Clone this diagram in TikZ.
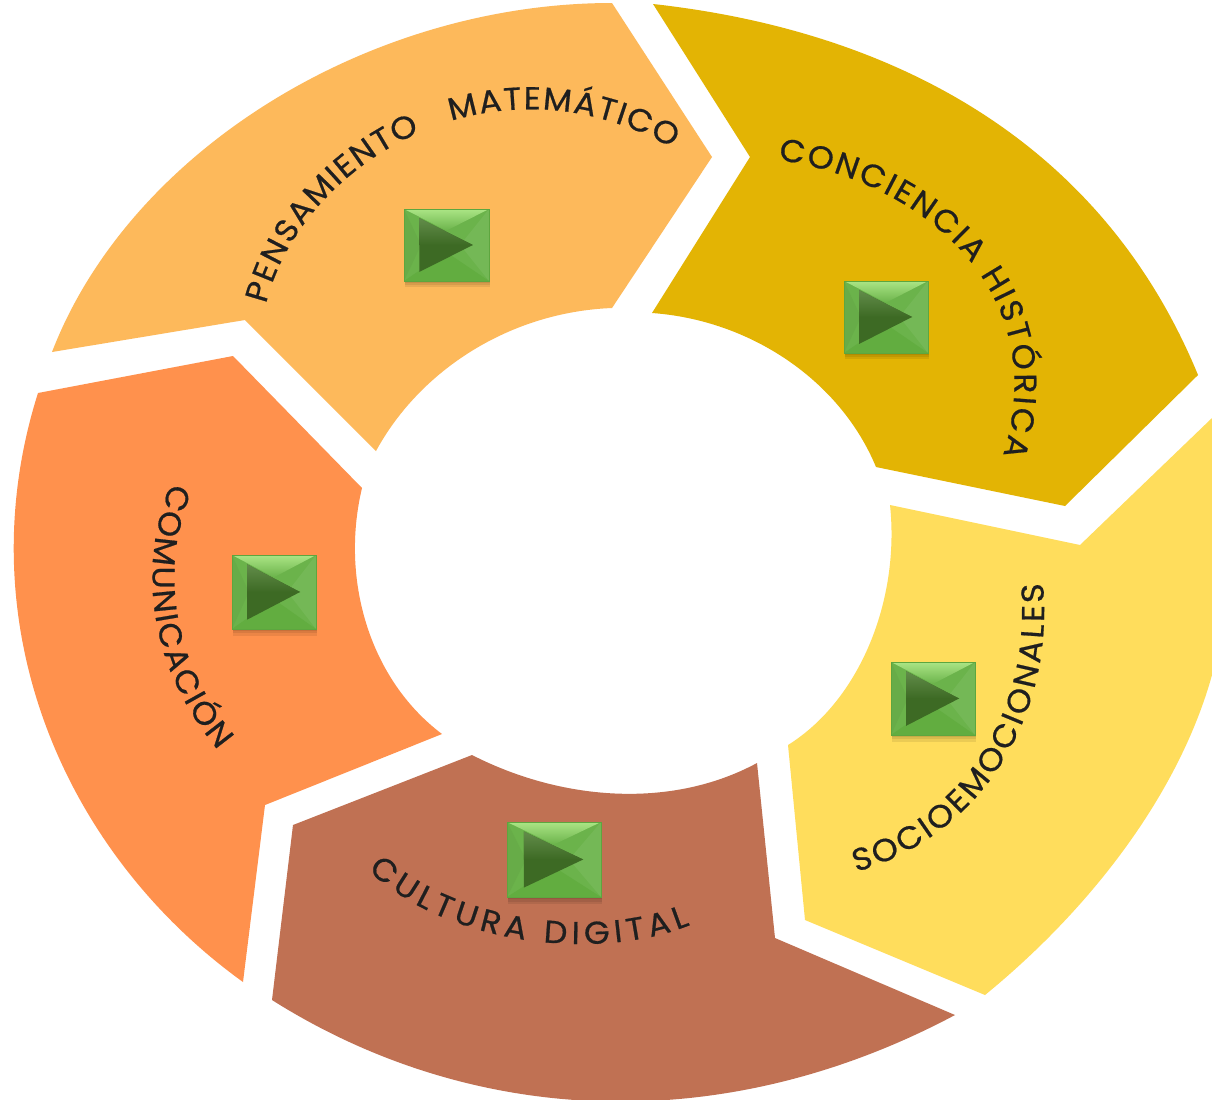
\documentclass[tikz,border=0pt]{standalone}
\usepackage{fontspec}
\usetikzlibrary{decorations.text}
\newfontfamily\labelfont[FakeStretch=1.05,FakeBold=.6]{Poppins}
\definecolor{pensa}{HTML}{FDB95B}
\definecolor{concie}{HTML}{E3B404}
\definecolor{socio}{HTML}{FFDD5C}
\definecolor{cultu}{HTML}{C07153}
\definecolor{comun}{HTML}{FF914D}
\definecolor{btnedge}{HTML}{5DA63F}
\definecolor{btnlight}{HTML}{ABE585}
\definecolor{btnmid}{HTML}{6BB34B}
\definecolor{btnlow}{HTML}{62AD40}
\definecolor{btndark}{HTML}{3D6A24}
\definecolor{btnsoft}{HTML}{628C4A}
\tikzset{
  arctext/.style={decorate,decoration={text along path,text align={fit to path},
                  text={|\labelfont\fontsize{18}{18}\selectfont\color{black!88}|#1}}}
}
% Play button: left, top, width, height
\newcommand*{\playbtn}[4]{
\begin{scope}[shift={(#1,#2)},x=#3*.02cm,y=#4*-.02cm]
% Soft shadow
\foreach \off in {.03,.06,.09}
  \fill[black,opacity=.08] (.01,.05) rectangle (1.01,1+\off);
\fill[btnmid] (0,0) rectangle (1,1);
% Bevel facets
\shade[top color=btnlight,bottom color=btnmid] (0,0) -- (1,0) -- (.5,.3) -- cycle;
\fill[btnmid!96!black] (0,0) -- (0,1) -- (.2,.5) -- cycle;
\fill[btnmid!94!white] (1,0) -- (1,1) -- (.66,.5) -- cycle;
\fill[btnlow] (0,1) -- (1,1) -- (.5,.6) -- cycle;
\draw[btnedge,line width=.5pt] (0,0) rectangle (1,1);
% Triangle on top
\fill[btndark] (.18,.126) -- (.81,.5) -- (.18,.874) -- cycle;
\shade[top color=btnsoft,bottom color=btndark] (.18,.126) -- (.81,.5) -- (.18,.5) -- cycle;
\end{scope}
}

\begin{document}
\begin{tikzpicture}[x=.02cm,y=-.02cm]
\useasboundingbox (0,0) rectangle (1212,1099);
\fill[white] (0,0) rectangle (1212,1099);
% Pensamiento matematico
\fill[pensa] (52,352) .. controls (130,150) and (370,3) .. (612,3) -- (712,157)
  -- (612,308) .. controls (510,312) and (420,370) .. (376,451) -- (245,320) -- cycle;
% Conciencia historica
\fill[concie] (653,4) .. controls (870,28) and (1095,125) .. (1198,375) -- (1065,506)
  -- (876,467) .. controls (840,380) and (750,320) .. (652,313) -- (750,157) -- cycle;
% Socioemocionales, runs off the right edge
\fill[socio] (1080,545) -- (1212,418) -- (1212,675) .. controls (1180,790) and (1095,905) .. (985,995)
  -- (805,920) -- (788,745) .. controls (860,700) and (900,600) .. (890,505) -- cycle;
% Cultura digital
\fill[cultu] (293,825) -- (472,755) .. controls (560,800) and (670,810) .. (757,763)
  -- (775,938) -- (955,1015) .. controls (720,1140) and (470,1125) .. (272,1000) -- cycle;
% Comunicacion
\fill[comun] (38,393) -- (233,356) -- (362,488) .. controls (340,580) and (370,680) .. (442,734)
  -- (265,805) -- (243,982) .. controls (60,850) and (-34,620) .. (38,393) -- cycle;
% Labels run along their baselines
\path[arctext={PENSAMIENTO{ }{ }{ }MATEMÁTICO}] (266,304) .. controls (300,165) and (490,45) .. (672,148);
\path[arctext={CONCIENCIA{ }HISTÓRICA}] (778,160) .. controls (920,180) and (1055,290) .. (1003,455);
\path[arctext={SOCIOEMOCIONALES}] (856,872) .. controls (970,840) and (1055,730) .. (1043,583);
\path[arctext={CULTURA{ }DIGITAL}] (368,870) .. controls (440,940) and (590,965) .. (690,925);
\path[arctext={COMUNICACIÓN}] (171,483) .. controls (140,560) and (143,660) .. (218,750);
% Buttons
\playbtn{404}{209}{85}{72}
\playbtn{844}{281}{84}{72}
\playbtn{232}{555}{84}{74}
\playbtn{891}{662}{84}{73}
\playbtn{507}{822}{94}{75}
\end{tikzpicture}
\end{document}
